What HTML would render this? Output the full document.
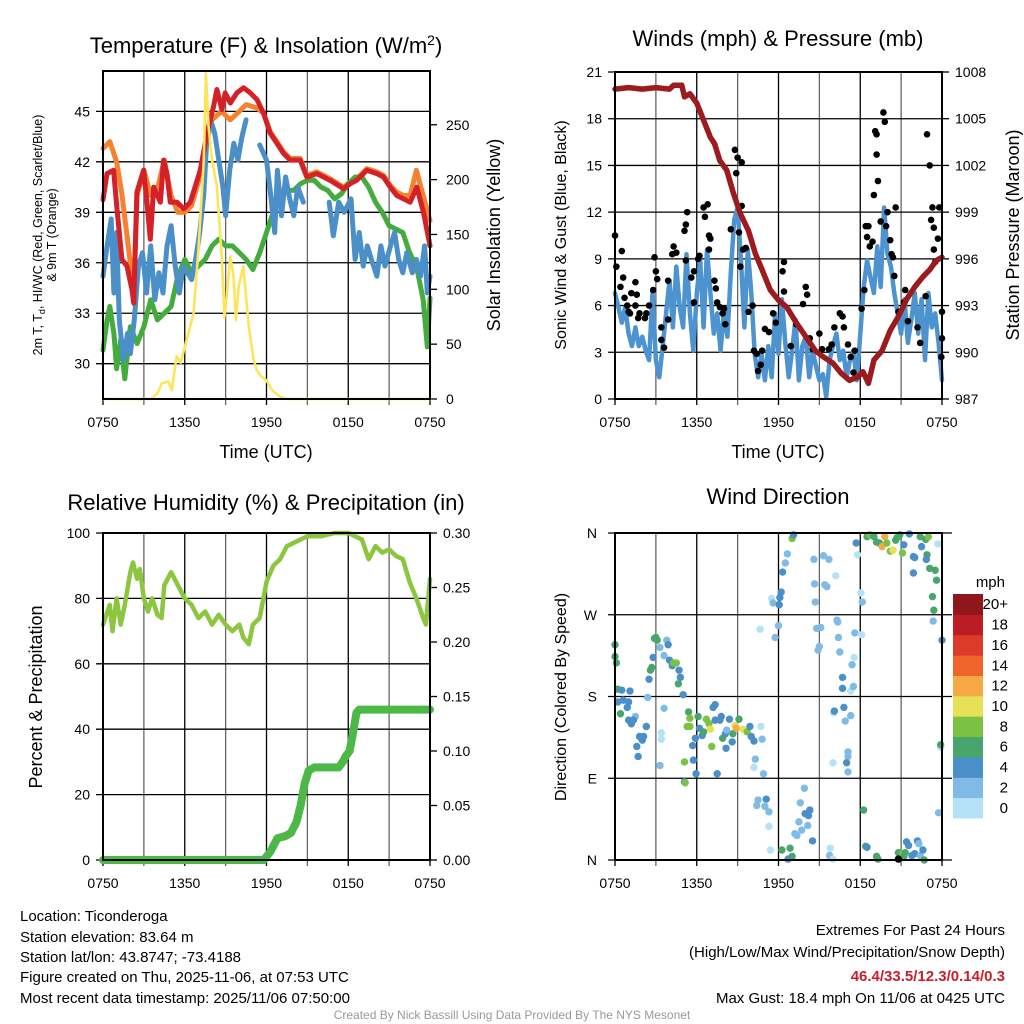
<!DOCTYPE html>
<html><head><meta charset="utf-8"><style>
html,body{margin:0;padding:0;background:#fff;}
svg{display:block;font-family:"Liberation Sans",Arial,sans-serif;}
</style></head><body>
<svg id="c" width="1024" height="1024" viewBox="0 0 1024 1024" xmlns="http://www.w3.org/2000/svg">
<g id="txt">
<text x="266" y="53" font-size="22" text-anchor="middle">Temperature (F) &amp; Insolation (W/m<tspan dy="-8" font-size="14">2</tspan><tspan dy="8">)</tspan></text>
<text x="778" y="46" font-size="22" text-anchor="middle">Winds (mph) &amp; Pressure (mb)</text>
<text x="266" y="510" font-size="22" text-anchor="middle">Relative Humidity (%) &amp; Precipitation (in)</text>
<text x="778" y="504" font-size="22" text-anchor="middle">Wind Direction</text>
<text x="266" y="458" font-size="18" text-anchor="middle">Time (UTC)</text>
<text x="778" y="458" font-size="18" text-anchor="middle">Time (UTC)</text>
<text transform="translate(42,235) rotate(-90)" font-size="12.5" text-anchor="middle">2m T, T<tspan font-size="9" dy="3">d</tspan><tspan dy="-3">, HI/WC (Red, Green, Scarlet/Blue)</tspan></text>
<text transform="translate(56,235) rotate(-90)" font-size="12.5" text-anchor="middle">&amp; 9m T (Orange)</text>
<text transform="translate(500,235) rotate(-90)" font-size="18" text-anchor="middle">Solar Insolation (Yellow)</text>
<text transform="translate(566,235) rotate(-90)" font-size="16" text-anchor="middle">Sonic Wind &amp; Gust (Blue, Black)</text>
<text transform="translate(1019,235) rotate(-90)" font-size="18" text-anchor="middle">Station Pressure (Maroon)</text>
<text transform="translate(42,697) rotate(-90)" font-size="18" text-anchor="middle">Percent &amp; Precipitation</text>
<text transform="translate(566,697) rotate(-90)" font-size="16" text-anchor="middle">Direction (Colored By Speed)</text>
<text x="1005" y="587" font-size="15" text-anchor="end">mph</text>
<g font-size="15">
<text x="20" y="921">Location: Ticonderoga</text>
<text x="20" y="942">Station elevation: 83.64 m</text>
<text x="20" y="962">Station lat/lon: 43.8747; -73.4188</text>
<text x="20" y="982">Figure created on Thu, 2025-11-06, at 07:53 UTC</text>
<text x="20" y="1003">Most recent data timestamp: 2025/11/06 07:50:00</text>
</g>
<g font-size="15" text-anchor="end">
<text x="1005" y="935">Extremes For Past 24 Hours</text>
<text x="1005" y="957">(High/Low/Max Wind/Precipitation/Snow Depth)</text>
<text x="1005" y="981" fill="#c8202a" font-weight="bold">46.4/33.5/12.3/0.14/0.3</text>
<text x="1005" y="1003">Max Gust: 18.4 mph On 11/06 at 0425 UTC</text>
</g>
<text x="512" y="1019" font-size="12" fill="#999" text-anchor="middle">Created By Nick Bassill Using Data Provided By The NYS Mesonet</text>
</g>
</svg>
<script>
// ---------- data ----------
const xTickLabels = ["0750","1350","1950","0150","0750"];
const tempTicks = [30,33,36,39,42,45];
const solarTicks = [0,50,100,150,200,250];
const windTicks = [0,3,6,9,12,15,18,21];
const presTicks = [987,990,993,996,999,1002,1005,1008];
const rhTicks = [0,20,40,60,80,100];
const precipTicks = ["0.00","0.05","0.10","0.15","0.20","0.25","0.30"];
const dirLabels = ["N","E","S","W","N"];
const speedBinLabels = ["0","2","4","6","8","10","12","14","16","18","20+"];
const speedBinColors = ["#b5e2f7","#80bbe5","#4a8fc7","#48a56c","#7bc244","#e6e156","#f6a945","#ef6429","#dc3a2b","#bb1d25","#8f161b"];

const redH = [0,.29,.78,1.03,1.39,1.76,2.13,2.25,2.49,2.98,3.23,3.47,3.72,4.21,4.45,4.69,4.94,5.43,5.92,6.41,7.14,7.63,8.12,8.36,8.73,8.97,9.34,9.83,10.32,10.81,11.3,11.78,12.27,12.76,13.25,13.74,14.47,14.96,15.7,16.67,17.65,18.14,18.63,19.36,20.1,20.59,21.08,21.56,22.05,22.54,23.03,23.52,24];
const redT = [39.75,41.3,41.5,39.2,36.2,35.8,34.4,33.6,40.2,41.5,39.6,37.4,40.5,39.6,42.1,41.3,39.6,39.6,39.2,39.6,41.5,43.7,45.3,46.3,45.1,46.1,45.5,46.1,46.4,46.1,45.7,44.9,43.7,43.1,42.5,42.1,42.1,41.1,41.3,40.9,40.4,40.7,40.9,41.5,41.3,41.1,40.5,40.0,39.8,39.6,40.5,39.0,37.0];
const orangeH = [0,.5,1.0,1.4,2.0,2.3,2.5,3.0,3.5,4.0,4.5,5.0,5.5,6.0,6.5,7.14,7.63,8.0,8.7,9.34,10.0,10.5,11.3,11.78,12.27,12.76,13.25,13.74,14.47,14.96,15.7,16.67,17.65,18.14,18.63,19.36,20.1,20.59,21.08,21.56,22.05,22.54,23.0,23.5,24];
const orangeT = [42.8,43.2,42.0,40.0,36.0,35.2,40.0,41.5,40.0,40.4,42.1,40.0,39.0,39.0,39.4,41.2,43.2,44.5,45.0,44.5,45.0,45.4,45.2,44.9,43.8,43.2,42.6,42.2,42.2,41.2,41.4,41.0,40.5,40.8,41.0,41.6,41.4,41.2,40.6,40.2,40.0,40.0,41.5,40.0,38.5];
const greenH = [0,.3,.5,.8,1,1.3,1.6,2,2.5,3,3.5,4,4.5,5,5.5,6,6.5,7,7.5,8,8.5,9,9.5,10,10.5,11,11.5,12,12.5,13,13.5,14,14.5,15,15.5,16,16.5,17,17.5,18,18.5,19,19.5,20,20.5,21,21.5,22,22.5,23,23.5,23.8,24];
const greenT = [30.8,32.6,33.4,31.8,29.7,31.4,29.1,32.2,31.2,32.2,33.8,32.6,33.0,33.4,35.2,36.2,35.4,35.8,36.2,37.0,37.4,37.0,37.0,36.6,36.2,35.6,36.6,37.8,39.0,40.1,40.3,40.3,40.7,40.9,40.9,40.5,40.3,39.8,40.1,40.7,41.1,41.1,40.5,39.6,39.0,38.2,38.0,37.8,36.6,35.8,33.8,31.0,33.9];
const blueH = [0,.3,.6,.8,1,1.2,1.5,1.8,2,2.3,2.6,2.9,3.2,3.5,3.8,4.1,4.4,4.7,5,5.3,5.6,5.9,6.2,6.5,6.8,7.1,7.4,7.6,7.9,8.2,8.5,8.8,9,9.3,9.6,9.9,10.2,10.5,10.6,11.0,11.05,11.5,12,12.3,12.6,12.8,13.1,13.4,13.7,14,14.3,14.7,14.8,16.6,16.9,17.3,17.7,18.2,18.5,18.8,19.1,19.4,19.7,20.1,20.4,20.7,21.1,21.4,21.7,22,22.3,22.7,23,23.3,23.6,23.8,24];
const blueT = [35.2,37.0,38.6,34.2,37.8,32.6,30.2,31.8,30.6,32.6,35.8,36.6,34.2,37.0,33.8,35.4,34.2,37.0,38.2,35.8,34.2,35.8,35.4,35.0,36.2,37.8,40.1,43.1,44.5,43.7,42.1,40.5,38.8,41.5,43.1,42.1,43.5,44.5,null,44.5,null,43.0,42.1,40.1,37.8,41.5,38.8,41.1,39.8,38.8,40.5,39.6,null,39.6,37.6,39.6,39.0,39.8,36.2,37.8,35.8,37.0,36.2,35.2,37.0,35.8,37.0,37.8,36.2,35.4,36.6,35.4,36.2,35.2,37.0,34.2,35.2];
const solarH = [0,3.5,4.0,4.3,4.8,5.06,5.4,5.7,6.2,6.65,7.0,7.4,7.55,7.75,8.0,8.36,8.73,8.92,9.1,9.34,9.58,9.76,9.95,10.3,10.7,11.05,11.3,11.66,12.0,12.4,13.0,13.5,24];
const solarW = [0,0,5,14,16,8,39,33,57,78,136,218,297,248,218,194,127,75,96,130,112,72,102,121,66,36,26,20,17,8,2,0,0];

const presH = [0,1,2,3,4,4.3,4.9,5.1,5.5,6,6.5,7,7.3,7.7,8.2,8.7,9.2,9.8,10.3,10.8,11.4,12,12.6,13.3,14,14.7,15.3,16,16.6,17.2,17.8,18.2,18.6,19,19.6,20.2,20.8,21.4,22,22.6,23.1,23.6,24];
const presMb = [1006.9,1007.0,1006.9,1007.0,1006.9,1007.15,1007.15,1006.4,1006.6,1006.0,1004.9,1003.8,1003.4,1002.3,1001.7,1000.2,998.9,997.8,996.35,995.3,994.0,993.35,992.9,991.9,991.0,990.1,989.7,989.3,988.65,988.2,988.4,988.75,988.0,989.5,990.1,991.4,992.3,993.4,994.2,994.85,995.3,995.9,996.1];
const windH = [0,.25,.5,.75,1,1.25,1.5,1.75,2,2.25,2.5,2.75,3,3.25,3.5,3.75,4,4.25,4.5,4.75,5,5.25,5.5,5.75,6,6.25,6.5,6.75,7,7.25,7.5,7.75,8,8.25,8.5,8.75,9,9.25,9.5,9.75,10,10.25,10.5,10.75,11,11.25,11.5,11.75,12,12.25,12.5,12.75,13,13.25,13.5,13.75,14,14.25,14.5,14.75,15,15.25,15.5,15.75,16,16.25,16.5,16.75,17,17.25,17.5,17.75,18,18.25,18.5,18.75,19,19.25,19.5,19.75,20,20.25,20.5,20.75,21,21.25,21.5,21.75,22,22.25,22.5,22.75,23,23.25,23.5,23.75,24];
const windMph = [6.8,5.9,4.9,5.9,4.2,3.4,4.6,3.4,4.0,3.1,2.5,6.8,2.5,1.4,3.4,5.5,7.6,4.6,8.5,5.9,4.6,9.3,5.5,3.1,6.8,8.9,4.6,9.6,6.8,4.2,5.5,3.1,5.7,4.0,8.1,11.5,12.3,8.9,4.6,9.6,6.8,2.9,1.4,2.9,1.2,3.4,1.4,5.5,2.9,6.4,3.6,1.4,3.1,5.1,1.2,3.4,4.0,1.4,3.1,2.1,1.2,1.6,0.15,2.5,3.4,4.2,2.5,3.1,1.4,2.5,3.1,1.2,4.2,7.2,8.9,7.8,6.8,9.8,7.2,12.3,9.3,8.5,6.8,5.5,4.2,6.4,3.6,5.1,6.8,4.2,6.4,2.5,6.8,4.6,5.5,3.6,1.2];
const gustH = [0,.1,.5,.6,.4,.7,.9,1,1.1,1.2,1.5,1.6,1.5,1.7,1.8,2.2,2.3,2.5,2.8,2.9,3,3.1,3.4,3.4,3.6,3.9,3.9,4.2,4.3,4.5,5.1,5.2,5.2,5.3,5.6,5.8,5.8,6.1,6.2,6.5,6.6,6.8,6.9,7,6.9,7.3,7.4,7.5,7.7,7.9,8,8.1,8.5,8.9,8.8,9,9.3,9.3,9.1,9.2,9.4,9.6,9.8,10.1,10.2,10.4,10.5,10.7,10.8,11,11.3,11.6,11.8,12.3,12.4,12.4,12.9,13.3,13.8,14,14.1,14.3,14.5,15,15.2,15.7,15.9,16.1,16.5,16.7,16.8,17.1,17.3,17.5,17.6,18.1,18.3,18.4,18.5,18.7,18.6,18.9,19,19.1,19.2,19.2,19.3,19.5,19.7,19.8,19.9,20,20.2,20.3,20.4,20.5,20.6,20.8,21.2,21.3,21.5,22.2,22.4,22.8,22.9,23.1,23.2,23.3,23.4,23.4,23.5,23.7,23.8,24,24,23.95];
const gustMph = [10.5,8.5,9.5,7.8,7.2,6.5,6.0,5.6,5.5,6.8,7.5,6.7,6.0,5.2,5.5,5.2,5.5,6.0,7.0,9.1,8.2,7.7,4.6,3.8,3.3,5.1,7.6,9.3,9.8,9.4,10.8,11.2,8.9,12.0,7.8,6.2,8.2,9.0,9.2,12.3,11.7,12.5,10.5,10.3,9.6,7.6,7.1,6.2,5.9,5.5,5.8,4.8,10.9,14.5,16.0,15.5,15.2,12.4,10.7,8.5,9.6,9.7,5.6,6.0,3.1,2.9,1.8,2.2,3.1,4.5,4.3,5.5,4.9,8.2,8.8,6.9,3.4,4.8,6.1,7.2,6.7,3.9,3.2,4.2,3.2,3.2,3.5,4.6,5.5,5.3,4.6,3.5,2.7,1.7,3.1,5.8,7.0,11.1,10.4,9.8,11.1,10.1,13.1,17.2,17.0,15.7,14.0,11.4,18.4,17.8,11.1,12.0,10.2,9.3,9.1,7.9,12.3,5.6,6.2,7.0,5.0,4.6,3.6,6.6,17.0,15.0,11.5,12.3,11.0,9.6,8.8,10.3,12.3,3.9,5.6,2.7];

const rhH = [0,.5,.7,1,1.3,1.6,2,2.2,2.5,2.7,3,3.3,3.6,4,4.3,4.5,5,5.5,6,6.5,7,7.5,8,8.5,9,9.5,10,10.3,10.7,11,11.5,12,12.5,13,13.5,14,14.5,15,16,17,18,19,19.5,20,20.5,21,21.5,22,22.5,23,23.5,23.7,24];
const rhPct = [72,78,70,80,72,78,88,91,86,89,80,76,80,75,74,84,88,84,80,78,74,76,72,75,72,70,72,68,66,72,74,85,90,92,96,97,98,99,99,100,100,98,92,96,94,95,93,92,85,80,74,72,86];
const pcpH = [0,11.8,12.3,12.8,13.4,13.8,14.2,14.5,14.8,15.1,15.5,17.3,17.6,17.8,18.1,18.4,18.6,18.8,24];
const pcpIn = [0,0,0.008,0.02,0.022,0.025,0.035,0.05,0.07,0.082,0.085,0.085,0.09,0.095,0.10,0.12,0.135,0.138,0.138];

const dirH = [0,0,0.1,0.2,0.5,1.1,0.2,0.6,1.0,0.4,0.9,1.5,1.0,1.2,1.35,1.6,1.7,2.0,2.1,2.3,1.8,2.4,2.5,2.7,2.6,2.8,2.9,3.0,3.1,3.3,3.6,3.4,3.4,3.3,3.8,3.9,3.6,4.0,4.2,4.3,4.5,4.7,4.8,4.65,5.0,5.1,5.1,5.15,5.4,5.5,5.5,5.3,5.75,5.9,5.7,5.95,6.1,6.2,6.4,6.5,6.7,6.9,7.0,7.1,7.2,7.35,7.5,7.35,7.7,7.8,7.9,8.1,8.2,8.15,8.4,8.6,8.65,8.8,8.9,9.1,9.4,9.7,9.9,10.0,10.2,10.7,10.8,10.3,10.2,10.9,10.5,10.4,11.1,11.0,11.3,11.3,11.4,10.65,11.5,11.6,11.75,12.0,12.05,12.1,12.2,12.3,12.5,12.65,13.0,13.1,12.25,12.85,13.0,12.7,13.2,13.35,13.5,13.6,13.7,13.9,13.95,14.2,14.3,14.15,14.5,14.6,14.65,14.7,14.8,14.9,15.0,15.1,15.3,15.4,15.7,15.55,15.8,15.75,16.0,16.2,16.3,16.35,16.4,16.5,16.7,16.7,16.8,16.9,17.1,17.1,17.0,17.3,17.3,17.4,17.5,17.6,17.55,16.0,16.05,16.1,17.1,17.7,17.8,18.05,18.15,18.1,18.25,18.4,18.5,18.5,18.7,19.0,19.2,19.4,19.6,19.8,19.95,20.2,20.4,20.6,20.7,20.9,21.1,21.2,21.6,21.9,22.0,21.9,22.4,22.5,22.8,22.9,23.0,22.85,23.1,23.5,23.6,23.3,23.4,23.35,23.7,24.0,23.75,23.9,23.9,19.2,19.3,20.8,21.1,21.3,21.4,21.55,21.8,22.0,22.2,22.3,22.4,22.6,22.7,21.2,20.8];
const dirDeg = [237,224,217,188,187,186,174,176,174,161,168,158,154,150,154,125,114,132,136,147,136,179,199,212,209,223,244,245,242,234,167,140,133,104,242,237,225,220,214,217,217,209,201,194,182,108,86,85,163,156,147,147,110,134,126,95,158,145,137,141,155,150,144,125,168,171,95,154,154,158,134,139,143,123,155,130,139,148,145,155,144,141,147,136,131,147,133,111,102,95,66,60,67,59,53,37,11,254,288,283,245,258,281,289,295,317,327,337,354,358,11,13,4,1,29,27,42,63,33,79,51,49,55,38,21,331,304,284,255,231,235,256,335,303,331,301,13,5,1,313,264,262,245,229,201,189,168,153,119,114,107,159,186,215,191,250,223,107,162,164,97,349,336,294,284,248,55,15,14,356,358,356,350,349,345,356,349,340,341,352,355,358,338,347,359,334,333,316,356,345,353,336,356,331,321,319,308,290,275,263,348,242,52,124,127,4,1,8,7,8,20,16,5,7,21,18,5,11,0,4,1];
const dirSpd = [7,7,7,7,5,5,5,5,5,7,5,3,5,5,5,5,5,5,5,5,5,3,5,7,7,5,7,7,7,3,3,1,1,3,3,5,3,5,5,9,9,5,5,7,5,9,5,9,7,9,9,9,5,5,5,5,7,5,5,7,9,9,11,9,5,5,5,5,5,5,7,5,3,5,5,5,7,11,13,7,11,9,5,5,5,1,3,3,1,3,3,3,5,3,3,1,1,1,1,3,3,3,5,5,5,5,3,3,9,5,7,7,7,5,3,3,3,3,3,3,5,5,5,3,5,3,3,3,3,3,3,3,3,3,3,3,1,3,1,1,3,3,3,3,5,5,5,3,3,3,5,3,1,3,3,3,1,1,1,5,3,5,1,1,3,1,7,7,5,7,9,7,7,7,13,13,9,9,11,7,7,7,9,5,5,5,5,5,7,5,7,7,9,5,7,7,7,7,7,3,1,5,3,1,7,7,7,7,9,7,5,5,5,5,5,3,3,5,7,7];
</script>
<script>
const NS="http://www.w3.org/2000/svg";
const svg=document.getElementById('c');
function mk(tag,attrs,parent){const e=document.createElementNS(NS,tag);for(const k in attrs)e.setAttribute(k,attrs[k]);(parent||svg).appendChild(e);return e;}
function lin(d0,d1,r0,r1){return v=>r0+(v-d0)*(r1-r0)/(d1-d0);}
function pathFrom(xs,ys,fx,fy){let d="",pen=false;for(let i=0;i<xs.length;i++){if(ys[i]===null){pen=false;continue;}d+=(pen?"L":"M")+fx(xs[i]).toFixed(1)+","+fy(ys[i]).toFixed(1);pen=true;}return d;}
function panel(name,x0,y0,x1,y1,hasTime){
  const g=mk('g',{});
  
  
  const fx=lin(0,24,x0,x1);
  for(let k=0;k<=8;k++){const x=fx(k*3);const l=mk('line',{x1:x,y1:y0,x2:x,y2:y1+6,stroke:(k%2?'#666':'#000'),'stroke-width':1.3},g);}
  if(hasTime){xTickLabels.forEach((t,i)=>{const tx=mk('text',{x:fx(i*6),y:y1+28,'font-size':14,'text-anchor':'middle'},g);tx.textContent=t;});}
  return {g,fx};
}
function hgrid(g,ticks,fy,x0,x1,labelX,anchor,fmt){ticks.forEach(t=>{const y=fy(typeof t==='string'?parseFloat(t):t);const l=mk('line',{x1:x0-7,y1:y,x2:x1,y2:y,stroke:'#000','stroke-width':1.3},g);if(labelX!==null){const tx=mk('text',{x:labelX,y:y+5,'font-size':14,'text-anchor':anchor},g);tx.textContent=fmt?fmt(t):t;}});}
function rticks(g,ticks,fy,x1,labelX){ticks.forEach(t=>{const y=fy(parseFloat(t));mk('line',{x1:x1,y1:y,x2:x1+7,y2:y,stroke:'#000','stroke-width':1.3},g);const tx=mk('text',{x:labelX,y:y+5,'font-size':14,'text-anchor':'start'},g);tx.textContent=t;});}
function frame(g,x0,y0,x1,y1){const r=mk('rect',{x:x0,y:y0,width:x1-x0,height:y1-y0,fill:'none',stroke:'#000','stroke-width':2},g);}
function line(g,name,xs,ys,fx,fy,color,w){const p=mk('path',{d:pathFrom(xs,ys,fx,fy),fill:'none',stroke:color,'stroke-width':w,'stroke-linejoin':'round','stroke-linecap':'round'},g);return p;}

// Panel 1
{const x0=103,y0=71,x1=430,y1=399;const P=panel('temperature',x0,y0,x1,y1,true);const g=P.g,fx=P.fx;
 const fy=lin(27.9,47.4,y1,y0);const fs=lin(0,299,y1,y0);
 hgrid(g,tempTicks,fy,x0,x1,90,'end');rticks(g,solarTicks,fs,x1,446);
 line(g,'orange-9m-temp-line',orangeH,orangeT,fx,fy,'#f58231',5);
 line(g,'green-dewpoint-line',greenH,greenT,fx,fy,'#44ac3c',5);
 line(g,'blue-windchill-line',blueH,blueT,fx,fy,'#4a8fc8',5);
 line(g,'red-2m-temp-line',redH,redT,fx,fy,'#d42027',5);
 line(g,'yellow-solar-line',solarH,solarW,fx,fs,'#fde55a',2.6);
 frame(g,x0,y0,x1,y1);}
// Panel 2
{const x0=615,y0=72,x1=942,y1=399;const P=panel('wind',x0,y0,x1,y1,true);const g=P.g,fx=P.fx;
 const fy=lin(0,21,y1,y0);const fp=lin(987,1008,y1,y0);
 hgrid(g,windTicks,fy,x0,x1,602,'end');rticks(g,presTicks,fp,x1,955);
 line(g,'blue-wind-line',windH,windMph,fx,fy,'#4c93d0',4.5);
 gustH.forEach((h,i)=>{const c=mk('circle',{cx:fx(h),cy:fy(gustMph[i]),r:3.3,fill:'#000'},g);});
 line(g,'maroon-pressure-line',presH,presMb,fx,fp,'#9b1b1e',5.5);
 frame(g,x0,y0,x1,y1);}
// Panel 3
{const x0=103,y0=533,x1=430,y1=860;const P=panel('humidity',x0,y0,x1,y1,true);const g=P.g,fx=P.fx;
 const fy=lin(0,100,y1,y0);const fq=lin(0,0.30,y1,y0);
 hgrid(g,rhTicks,fy,x0,x1,90,'end');rticks(g,precipTicks,fq,x1,443);
 line(g,'humidity-line',rhH,rhPct,fx,fy,'#8cc63f',4.5);
 line(g,'precipitation-line',pcpH,pcpIn,fx,fq,'#4cb848',8);
 frame(g,x0,y0,x1,y1);}
// Panel 4
{const x0=615,y0=533,x1=942,y1=860;const P=panel('wind-direction',x0,y0,x1,y1,true);const g=P.g,fx=P.fx;
 const fy=lin(0,360,y1,y0);
 dirLabels.forEach((t,i)=>{const y=fy(i*90);const l=mk('line',{x1:x0-7,y1:y,x2:x1+10,y2:y,stroke:'#000','stroke-width':1.3},g);const tx=mk('text',{x:597,y:y+5,'font-size':14,'text-anchor':'end'},g);tx.textContent=t;});
 dirH.forEach((h,i)=>{const bin=Math.min(10,Math.floor(dirSpd[i]/2));const c=mk('circle',{cx:fx(h),cy:fy(dirDeg[i]),r:3.7,fill:speedBinColors[bin]},g);});
 frame(g,x0,y0,x1,y1);
 const cb=mk('g',{});
 const bh=224/11;
 speedBinColors.forEach((col,i)=>{const yy=594+(10-i)*bh;const r=mk('rect',{x:953,y:yy,width:30,height:bh+0.5,fill:col},cb);const tx=mk('text',{x:1008,y:yy+bh/2+5,'font-size':15,'text-anchor':'end'},cb);tx.textContent=speedBinLabels[i];});}
</script>
</body></html>
